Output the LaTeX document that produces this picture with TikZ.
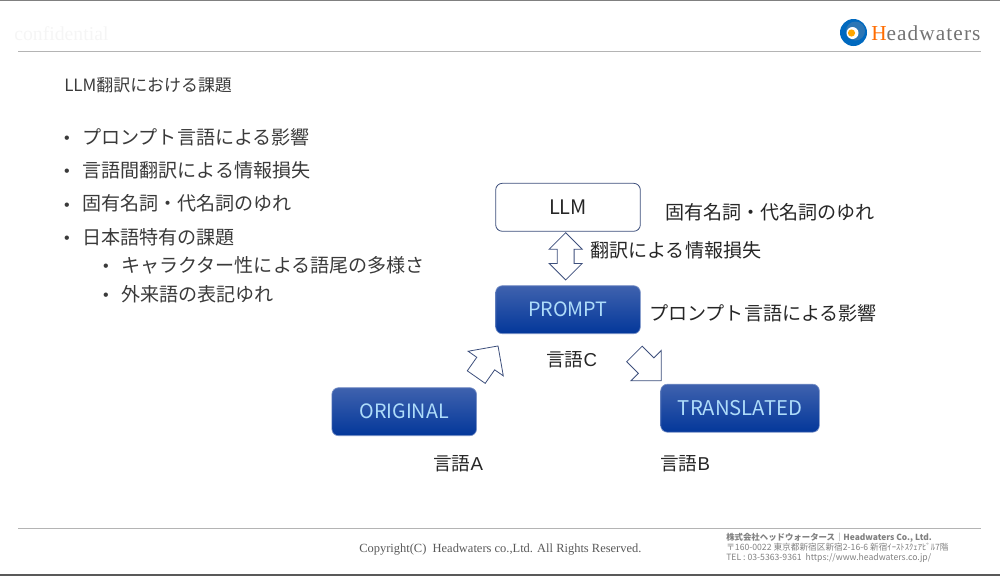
\documentclass[tikz,border=0pt]{standalone}
\usepackage{fontspec}
\setmainfont{Noto Sans CJK JP}
\newfontfamily\serifwm[LetterSpace=5]{Liberation Serif}
\newfontfamily\serifcp{Liberation Serif}
\newfontfamily\sanslat{Liberation Sans}
\usetikzlibrary{shapes.arrows,positioning}
\definecolor{Ink}{HTML}{3A3A3A}
\definecolor{Rule}{HTML}{B4B4B4}
\definecolor{BoxTop}{HTML}{3F62AE}
\definecolor{BoxBot}{HTML}{03379A}
\definecolor{BoxText}{HTML}{AEDCFA}
\definecolor{ArrowLine}{HTML}{3D4F7C}
\tikzset{
  labeltxt/.style={anchor=west,inner sep=0pt,text=black!85,font=\fontsize{14.3}{16}\selectfont},
  langtxt/.style={anchor=west,inner sep=0pt,text=black!85,font=\fontsize{14}{16}\selectfont},
  bullettxt/.style={anchor=west,inner sep=0pt,text=Ink,font=\fontsize{14.3}{16}\selectfont},
  blockbox/.style={rounded corners=5pt,draw=BoxTop!70,line width=0.5pt,top color=BoxTop,bottom color=BoxBot,text=BoxText,inner sep=0pt,minimum height=36pt,font=\fontsize{14.8}{16}\selectfont},
  blockarrow/.style={draw=ArrowLine,fill=white,line width=0.6pt,inner xsep=0pt,inner ysep=7.9pt,single arrow,single arrow head extend=7.9pt,minimum height=28.5pt},
  footertxt/.style={anchor=west,inner sep=0pt,text=black!50,font=\fontsize{6.5}{7}\selectfont},
}
\begin{document}
\begin{tikzpicture}[x=0.75pt,y=-0.75pt]
\useasboundingbox (0,0) rectangle (1000,576);
% frame and rules
\draw[black!50,line width=1pt] (0,0.5) -- (1000,0.5);
\draw[black!65,line width=1.2pt] (0,575) -- (1000,575);
\draw[Rule,line width=0.7pt] (18,51.5) -- (981,51.5);
\draw[Rule,line width=0.7pt] (18,528) -- (981,528);
\node[anchor=west,inner sep=0pt,text=black!4,font=\serifcp\fontsize{14.8}{16}\selectfont] (confid) at (14,34) {confidential};
% logo
\fill[blue!45!cyan!75!black] (853.5,32.5) circle (13.5);
\fill[cyan!60!blue!85!black] (855.5,31) circle (9.5);
\fill[white] (852.5,33) circle (6);
\fill[orange!70!yellow] (851.5,33) circle (3.6);
\node[anchor=west,inner sep=0pt,text=black!55,font=\serifwm\fontsize{16}{18}\selectfont] (brand) at (871,33) {\textcolor{orange!85!red}{H}eadwaters};
\node[anchor=west,inner sep=0pt,text=Ink,font=\fontsize{12.7}{14}\selectfont] (title) at (64,85) {LLM翻訳における課題};
% bullet list
\foreach \n/\x/\y/\s in {a/82/137/プロンプト言語による影響,b/82/170/言語間翻訳による情報損失,c/82/203.5/固有名詞・代名詞のゆれ,d/82/237/日本語特有の課題,e/121/265/キャラクター性による語尾の多様さ,f/121/294/外来語の表記ゆれ} {
  \node[bullettxt] (item\n) at (\x,\y) {\s};
  \node[left=9pt of item\n,yshift=-2.2pt,inner sep=0pt,text=Ink,font=\sanslat\fontsize{12}{12}\selectfont] (dot\n) {•};
}
% boxes
\node[rounded corners=5pt,draw=ArrowLine,line width=0.6pt,fill=white,text=black!85,minimum width=108.5pt,minimum height=36pt,inner sep=0pt,font=\fontsize{15}{16}\selectfont] (llm) at (568,207.3) {LLM};
\node[blockbox,minimum width=108.5pt] (prompt) at (568,309.7) {PROMPT};
\node[blockbox,minimum width=108.5pt] (original) at (404.2,411.7) {ORIGINAL};
\node[blockbox,minimum width=119pt,font=\fontsize{15.2}{16}\selectfont] (translated) at (740,408.2) {TRANSLATED};
% arrows
\node[draw=ArrowLine,fill=white,line width=0.6pt,inner xsep=0pt,inner ysep=6pt,double arrow,double arrow head extend=6.1pt,minimum height=35.5pt,rotate=90] (arrowc) at (565.7,256.3) {};
\node[blockarrow,rotate=55] (arrowa) at (484,366) {};
\node[blockarrow,rotate=-45] (arrowb) at (644,363.5) {};
% labels
\node[labeltxt] (labllm) at (665,212) {固有名詞・代名詞のゆれ};
\node[labeltxt] (labtrans) at (590,250) {翻訳による情報損失};
\node[labeltxt] (labprompt) at (649,313.5) {プロンプト言語による影響};
\node[langtxt] (langc) at (546,360) {言語{\sanslat C}};
\node[langtxt] (langa) at (433,463.5) {言語{\sanslat A}};
\node[langtxt] (langb) at (660,463.5) {言語{\sanslat B}};
% footer
\node[anchor=west,inner sep=0pt,text=black!65,font=\serifcp\fontsize{9.35}{11}\selectfont] (copy) at (359,549.5) {Copyright(C)\ \ Headwaters co.,Ltd. All Rights Reserved.};
\node[footertxt,font=\bfseries\fontsize{6.3}{7}\selectfont] (company) at (726,537.5) {株式会社ヘッドウォータース｜Headwaters Co., Ltd.};
\node[footertxt] (address) at (726,547.5) {〒160-0022 東京都新宿区新宿2-16-6 新宿ｲｰｽﾄｽｸｪｱﾋﾞﾙ7階};
\node[footertxt] (phone) at (726,558) {TEL : 03-5363-9361\ \ https://www.headwaters.co.jp/};
\end{tikzpicture}
\end{document}
